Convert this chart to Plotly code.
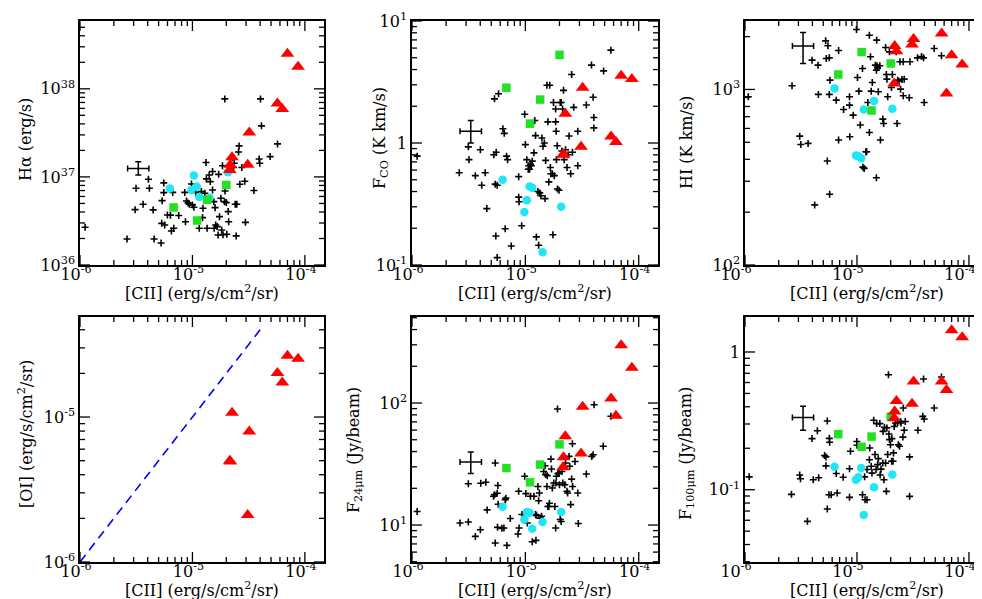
import math
import plotly.graph_objects as go

# ---------------- data ----------------
# Panel 1: H-alpha vs [CII]
p1_x = [1.11e-6, 2.62e-6, 3.09e-6, 3.15e-6, 3.64e-6, 4.06e-6, 4.14e-6, 4.47e-6, 4.56e-6, 5.26e-6,
        5.37e-6, 5.56e-6, 5.33e-6, 5.56e-6, 5.67e-6, 5.99e-6, 6.37e-6, 6.5e-6, 6.68e-6, 6.82e-6,
        7.55e-6, 8.55e-6, 8.67e-6, 8.85e-6, 9.15e-6, 9.4e-6, 9.8e-6, 1.0e-5, 1.03e-5, 1.07e-5,
        1.15e-5, 1.2e-5, 1.23e-5, 1.29e-5, 1.32e-5, 1.33e-5, 1.35e-5, 1.41e-5, 1.44e-5, 1.51e-5,
        1.51e-5, 1.55e-5, 1.59e-5, 1.61e-5, 1.66e-5, 1.71e-5, 1.74e-5, 1.79e-5, 1.82e-5, 1.85e-5,
        1.87e-5, 1.93e-5, 1.94e-5, 1.95e-5, 2.0e-5, 2.02e-5, 2.05e-5, 2.08e-5, 2.1e-5, 2.27e-5,
        2.32e-5, 2.35e-5, 2.4e-5, 2.45e-5, 2.48e-5, 2.57e-5, 2.6e-5, 2.64e-5, 2.75e-5, 2.92e-5,
        2.96e-5, 3.52e-5, 3.92e-5, 3.97e-5, 4.03e-5, 4.11e-5, 4.91e-5, 5.71e-5, 1.69e-5, 1.56e-5,
        1.24e-5]
p1_y = [2.68e36, 1.97e36, 4.25e36, 7.43e36, 4.89e36, 9.4e36, 7.43e36, 4.22e36, 1.97e36, 1.78e36,
        5.38e36, 8.55e36, 2.97e36, 6.64e36, 2.85e36, 3.7e36, 3.68e36, 2.43e36, 6.67e36, 2.61e36,
        3.64e36, 6.67e36, 3.1e36, 5.33e36, 5.07e36, 4.89e36, 8.32e36, 4.81e36, 4.52e36, 6.67e36,
        2.61e36, 6.81e36, 3.45e36, 6.52e36, 1.46e37, 9.49e36, 2.61e36, 1.05e37, 8.85e36, 1.15e37,
        7.11e36, 5.24e36, 4.48e36, 2.85e36, 2.73e36, 1.07e37, 3.54e36, 5.72e36, 2.5e36, 1.34e37,
        2.21e36, 5.24e36, 7.69e37, 6.93e36, 5.11e36, 2.23e36, 1.17e37, 4.04e36, 3.1e36, 1.66e37,
        1.28e37, 1.43e37, 4.89e36, 2.14e36, 4.89e36, 1.92e37, 2.25e37, 8.25e36, 1.28e37, 8.93e36,
        3.05e36, 7.0e36, 1.6e37, 1.43e37, 7.69e37, 3.8e37, 1.7e37, 2.37e37, 2.19e36, 2.61e36,
        4.4e36]

# Panel 2: F_CO vs [CII]
p2_x = [1.11e-6, 2.61e-6, 3.14e-6, 3.18e-6, 3.62e-6, 4.01e-6, 4.12e-6, 4.42e-6, 4.57e-6, 5.27e-6,
        5.34e-6, 5.42e-6, 5.49e-6, 5.53e-6, 5.64e-6, 5.8e-6, 5.64e-6, 6.34e-6, 6.51e-6, 6.64e-6,
        6.83e-6, 6.97e-6, 7.51e-6, 8.73e-6, 8.73e-6, 8.79e-6, 9.28e-6, 9.86e-6, 1.0e-5, 1.03e-5,
        1.06e-5, 1.07e-5, 1.09e-5, 1.11e-5, 1.13e-5, 1.15e-5, 1.19e-5, 1.21e-5, 1.23e-5, 1.25e-5,
        1.29e-5, 1.31e-5, 1.34e-5, 1.37e-5, 1.40e-5, 1.43e-5, 1.47e-5, 1.49e-5, 1.51e-5, 1.55e-5,
        1.58e-5, 1.61e-5, 1.64e-5, 1.66e-5, 1.68e-5, 1.73e-5, 1.75e-5, 1.77e-5, 1.8e-5, 1.85e-5,
        1.85e-5, 1.87e-5, 1.88e-5, 1.91e-5, 1.92e-5, 1.98e-5, 2.03e-5, 2.07e-5, 2.1e-5, 2.13e-5,
        2.17e-5, 2.2e-5, 2.26e-5, 2.33e-5, 2.38e-5, 2.43e-5, 2.51e-5, 2.56e-5, 2.6e-5, 2.67e-5,
        2.9e-5, 2.9e-5, 3.45e-5, 3.83e-5, 3.96e-5, 4.02e-5, 4.02e-5, 4.9e-5, 5.68e-5]
p2_y = [0.78, 0.57, 0.93, 0.73, 0.54, 0.88, 0.45, 0.57, 0.29, 0.80,
        2.3, 0.46, 0.173, 0.84, 0.45, 2.53, 0.115, 1.31, 1.2, 0.198,
        0.78, 0.73, 0.143, 0.53, 0.36, 0.33, 0.21, 1.72, 0.97, 0.73,
        0.61, 0.65, 0.61, 0.67, 0.65, 0.71, 0.83, 1.53, 1.15, 0.17,
        0.40, 0.145, 0.39, 0.37, 1.1, 0.94, 1.0, 0.35, 0.72, 2.97,
        1.49, 0.48, 2.97, 0.63, 0.56, 0.56, 0.177, 2.15, 0.54, 1.9,
        1.49, 1.25, 0.73, 0.95, 0.42, 0.41, 2.15, 2.15, 0.86, 1.9,
        2.7, 0.73, 0.88, 0.63, 0.80, 1.14, 0.56, 3.64, 0.84, 1.96,
        0.65, 1.25, 2.05, 4.35, 2.37, 1.62, 1.33, 3.9, 5.77]

# Panel 3: HI vs [CII]
p3_x = [1.07e-6, 2.63e-6, 3.08e-6, 3.15e-6, 3.66e-6, 3.97e-6, 4.19e-6, 4.49e-6, 4.52e-6, 5.25e-6,
        5.43e-6, 5.32e-6, 5.5e-6, 5.66e-6, 5.7e-6, 5.74e-6, 5.66e-6, 6.53e-6, 6.85e-6, 6.85e-6,
        7.59e-6, 8.58e-6, 8.58e-6, 8.63e-6, 9.25e-6, 9.9e-6, 1.01e-5, 1.04e-5, 1.07e-5, 1.12e-5,
        1.13e-5, 1.16e-5, 1.2e-5, 1.22e-5, 1.25e-5, 1.29e-5, 1.29e-5, 1.32e-5, 1.34e-5, 1.37e-5,
        1.46e-5, 1.49e-5, 1.5e-5, 1.51e-5, 1.53e-5, 1.55e-5, 1.49e-5, 1.6e-5, 1.62e-5, 1.7e-5,
        1.73e-5, 1.8e-5, 1.83e-5, 1.85e-5, 1.88e-5, 1.95e-5, 2.03e-5, 2.04e-5, 2.07e-5, 2.24e-5,
        2.28e-5, 2.31e-5, 2.37e-5, 2.42e-5, 2.45e-5, 2.52e-5, 2.59e-5, 2.59e-5, 2.64e-5, 2.93e-5,
        2.97e-5, 3.47e-5, 3.77e-5, 3.93e-5, 3.98e-5, 4.89e-5, 5.68e-5]
p3_y = [908, 1050, 542, 486, 493, 1469, 220, 1376, 937, 1892,
        391, 1501, 1773, 1514, 253, 1130, 937, 869, 1667, 515,
        769, 908, 814, 538, 714, 2196, 1171, 978, 627, 1317,
        361, 355, 442, 442, 843, 2037, 569, 1535, 978, 1096,
        1376, 1288, 1909, 1364, 1328, 970, 314, 1364, 515, 678,
        640, 1734, 1217, 1145, 908, 1638, 1027, 1406, 1217, 1638,
        640, 1130, 1115, 1437, 1004, 1140, 920, 1437, 1145, 897,
        1437, 1514, 1541, 1514, 843, 1711, 1555]

# Panel 5: F_24um vs [CII]
p5_x = [1.11e-6, 2.65e-6, 3.14e-6, 3.14e-6, 3.62e-6, 4.01e-6, 4.04e-6, 4.48e-6, 4.6e-6, 5.24e-6,
        5.34e-6, 5.42e-6, 5.42e-6, 5.64e-6, 5.72e-6, 5.68e-6, 5.76e-6, 6.21e-6, 6.47e-6, 6.64e-6,
        6.87e-6, 6.73e-6, 7.36e-6, 8.61e-6, 8.73e-6, 8.79e-6, 9.34e-6, 9.86e-6, 1.01e-5, 1.04e-5,
        1.11e-5, 1.15e-5, 1.19e-5, 1.23e-5, 1.24e-5, 1.25e-5, 1.29e-5, 1.31e-5, 1.33e-5, 1.36e-5,
        1.39e-5, 1.45e-5, 1.49e-5, 1.51e-5, 1.55e-5, 1.56e-5, 1.58e-5, 1.61e-5, 1.63e-5, 1.68e-5,
        1.70e-5, 1.73e-5, 1.78e-5, 1.82e-5, 1.85e-5, 1.86e-5, 1.88e-5, 1.92e-5, 1.94e-5, 1.98e-5,
        2.0e-5, 2.03e-5, 2.07e-5, 2.1e-5, 2.14e-5, 2.23e-5, 2.26e-5, 2.33e-5, 2.36e-5, 2.43e-5,
        2.46e-5, 2.51e-5, 2.56e-5, 2.6e-5, 2.61e-5, 2.74e-5, 2.9e-5, 2.93e-5, 3.45e-5, 3.85e-5,
        3.96e-5, 4.04e-5, 4.86e-5, 5.68e-5]
p5_y = [12.9, 10.4, 10.6, 21.8, 8.07, 9.16, 22.0, 22.4, 13.3, 17.2,
        17.7, 7.12, 32.2, 18.2, 21.1, 9.57, 14.8, 9.39, 9.45, 16.1,
        6.81, 16.6, 11.3, 8.44, 18.9, 9.45, 12.2, 25.1, 18.1, 10.4,
        17.2, 7.3, 17.2, 12.2, 7.49, 12.0, 20.7, 15.8, 18.3, 11.4,
        11.8, 27.5, 30.6, 25.9, 20.7, 25.4, 14.2, 14.2, 15.1, 34.7,
        28.8, 20.1, 22.1, 14.2, 9.45, 22.1, 25.1, 89.2, 26.4, 26.7,
        21.4, 11.1, 10.7, 27.5, 22.1, 21.4, 32.2, 18.9, 18.3, 36.5,
        30.3, 14.7, 23.8, 46.4, 20.7, 33.2, 18.3, 10.3, 26.2, 36.5,
        37.7, 96.9, 44.2, 77.8]

# Panel 6: F_100um vs [CII]
p6_x = [1.09e-6, 2.6e-6, 3.08e-6, 3.13e-6, 3.61e-6, 3.97e-6, 4.07e-6, 4.43e-6, 4.55e-6, 5.14e-6,
        5.28e-6, 5.28e-6, 5.43e-6, 5.43e-6, 5.66e-6, 5.7e-6, 5.62e-6, 5.89e-6, 6.66e-6, 6.53e-6,
        7.53e-6, 8.58e-6, 8.58e-6, 8.75e-6, 9.97e-6, 1.0e-5, 1.12e-5, 1.17e-5, 1.18e-5, 1.23e-5,
        1.23e-5, 1.29e-5, 1.30e-5, 1.34e-5, 1.36e-5, 1.41e-5, 1.45e-5, 1.5e-5, 1.48e-5, 1.53e-5,
        1.55e-5, 1.6e-5, 1.61e-5, 1.64e-5, 1.7e-5, 1.71e-5, 1.74e-5, 1.76e-5, 1.8e-5, 1.83e-5,
        1.85e-5, 1.88e-5, 1.91e-5, 1.93e-5, 1.95e-5, 1.99e-5, 2.01e-5, 2.04e-5, 2.05e-5, 2.1e-5,
        2.12e-5, 2.15e-5, 2.21e-5, 2.31e-5, 2.34e-5, 2.4e-5, 2.45e-5, 2.47e-5, 2.57e-5, 2.59e-5,
        2.64e-5, 2.7e-5, 2.95e-5, 2.95e-5, 3.5e-5, 3.87e-5, 3.98e-5, 3.93e-5, 4.89e-5, 5.68e-5]
p6_y = [0.124, 0.0925, 0.128, 0.12, 0.0589, 0.235, 0.118, 0.268, 0.122, 0.177,
        0.149, 0.173, 0.315, 0.0724, 0.236, 0.221, 0.092, 0.092, 0.0946, 0.131,
        0.123, 0.142, 0.088, 0.19, 0.224, 0.21, 0.092, 0.124, 0.0846, 0.0846,
        0.14, 0.165, 0.201, 0.148, 0.132, 0.319, 0.18, 0.302, 0.14, 0.152,
        0.168, 0.302, 0.128, 0.141, 0.156, 0.265, 0.118, 0.284, 0.156, 0.0973,
        0.281, 0.18, 0.684, 0.254, 0.231, 0.212, 0.341, 0.161, 0.235, 0.161,
        0.185, 0.288, 0.305, 0.308, 0.212, 0.207, 0.313, 0.305, 0.241, 0.392,
        0.27, 0.313, 0.173, 0.0895, 0.27, 0.341, 0.326, 0.637, 0.392, 0.658]

# Cyan circles (shared [CII])
cyan_x = [6.3e-6, 1.03e-5, 9.8e-6, 1.09e-5, 1.15e-5, 1.42e-5, 2.07e-5]
cyan_p1 = [7.4e36, 1.04e37, 7.1e36, 7.8e36, 5.9e36, 5.8e36, 1.13e37]
cyan_p2 = [0.50, 0.34, 0.272, 0.44, 0.43, 0.127, 0.30]
cyan_p3 = [1014, 417, 420, 405, 769, 859, 776]
cyan_p5 = [14.1, 12.8, 11.1, 12.6, 9.33, 10.6, 12.8]
cyan_p6 = [0.147, 0.123, 0.118, 0.144, 0.0655, 0.104, 0.129]

# Green squares
green_x = [6.8e-6, 1.1e-5, 1.35e-5, 2.0e-5]
green_p1 = [4.5e36, 3.2e36, 5.5e36, 8.1e36]
green_p2 = [2.84, 1.44, 2.27, 5.28]
green_p3 = [1217, 1633, 759, 1406]
green_p5 = [29.3, 22.4, 31.3, 45.8]
green_p6 = [0.253, 0.205, 0.243, 0.339]

# Red triangles
tri_x = [7.0e-5, 8.7e-5, 5.7e-5, 6.3e-5, 3.2e-5, 3.1e-5, 2.25e-5, 2.17e-5, 2.15e-5]
tri_p1 = [2.5e38, 1.78e38, 6.8e37, 5.9e37, 3.2e37, 1.37e37, 1.67e37, 1.37e37, 1.2e37]
tri_p2 = [3.55, 3.35, 1.13, 1.02, 2.84, 0.93, 1.74, 0.81, 0.80]
tri_p3 = [1567, 1387, 2084, 948, 1936, 1803, 1652, 1767, 1081]
tri_p4 = [2.65e-5, 2.52e-5, 2.01e-5, 1.73e-5, 7.96e-6, 2.11e-6, 1.07e-5, 4.94e-6, 5.0e-6]
tri_p5 = [298, 195, 109, 78.7, 93.3, 38.5, 53.4, 35.9, 29.7]
tri_p6 = [1.44, 1.28, 0.61, 0.53, 0.61, 0.42, 0.44, 0.37, 0.33]

# one-to-one line in the [OI] panel
line_x = [1e-6, 4e-5]
line_y = [1e-6, 4e-5]

# Typical error bar: [CII] centre / low / high, and per-panel y centre / low / high
err_x = [3.3e-6, 2.65e-6, 4.1e-6]
err_p1 = [1.25e37, 1.05e37, 1.49e37]
err_p2 = [1.25, 1.0, 1.53]
err_p3 = [1766, 1406, 2113]
err_p5 = [32.8, 26.4, 39.6]
err_p6 = [0.335, 0.27, 0.403]

# axis settings
x_range = [-6, -3.83]
y_ranges = {1: [36, 38.77], 2: [-1, 1], 3: [2, 3.39], 4: [-6, -4.31], 5: [0.697, 2.705], 6: [-1.525, 0.254]}
x_titles = "[CII] (erg/s/cm<sup>2</sup>/sr)"
y_titles = {1: "Hα (erg/s)", 2: "F<sub>CO</sub> (K km/s)", 3: "HI (K km/s)",
            4: "[OI] (erg/s/cm<sup>2</sup>/sr)", 5: "F<sub>24μm</sub> (Jy/beam)",
            6: "F<sub>100μm</sub> (Jy/beam)"}
x_tick_exp = [-6, -5, -4]
y_tick_exp = {1: [36, 37, 38], 2: [-1, 0, 1], 3: [2, 3], 4: [-6, -5], 5: [1, 2], 6: [-1, 0]}

# ---------------- layout ----------------
W, H = 982, 599
x_dom_px = {1: (72, 316), 2: (404, 650), 3: (737, 980)}
y_dom_px = {1: (13, 257), 2: (309, 554)}
x_label_shift = {1: -4, 2: -4, 3: -9}
FONT = "DejaVu Serif"
MAJOR_LEN, MINOR_LEN = 10, 5


def sup(e):
    if e == 0:
        return "1"
    return "10<sup>%d</sup>" % e


def tick_values(lo, hi):
    """Major (decade) and minor (2..9 x decade) tick values inside the log10 range [lo, hi]."""
    major, minor = [], []
    for d in range(math.floor(lo) - 1, math.ceil(hi) + 1):
        if lo - 1e-9 <= d <= hi + 1e-9:
            major.append(10.0 ** d)
        for m in range(2, 10):
            if lo < d + math.log10(m) < hi:
                minor.append(m * 10.0 ** d)
    return major, minor


fig = go.Figure()


def add_panel(k, bx, by, cx=None, cy=None, gx=None, gy=None, tx=None, ty=None, err=None):
    xa = "x" if k == 1 else "x%d" % k
    ya = "y" if k == 1 else "y%d" % k
    cross = dict(symbol="cross-thin", size=5, color="black", line=dict(width=1.6, color="black"))
    if bx is not None:
        fig.add_trace(go.Scatter(x=bx, y=by, mode="markers", marker=cross, xaxis=xa, yaxis=ya))
    if err is not None:
        c, lo, hi = err
        fig.add_trace(go.Scatter(
            x=[err_x[0]], y=[c], mode="markers", marker=dict(size=1, opacity=0),
            error_x=dict(type="data", symmetric=False, array=[err_x[2] - err_x[0]],
                         arrayminus=[err_x[0] - err_x[1]], color="black", thickness=1.5, width=3),
            error_y=dict(type="data", symmetric=False, array=[hi - c], arrayminus=[c - lo],
                         color="black", thickness=1.5, width=3),
            xaxis=xa, yaxis=ya))
    if cx is not None:
        fig.add_trace(go.Scatter(x=cx, y=cy, mode="markers",
                                 marker=dict(symbol="circle", size=8.5, color="#1ee6f4"),
                                 xaxis=xa, yaxis=ya))
    if gx is not None:
        fig.add_trace(go.Scatter(x=gx, y=gy, mode="markers",
                                 marker=dict(symbol="square", size=8.5, color="#22e022"),
                                 xaxis=xa, yaxis=ya))
    if tx is not None:
        fig.add_trace(go.Scatter(x=tx, y=ty, mode="markers",
                                 marker=dict(symbol="triangle-up", size=12, color="#ff0000"),
                                 xaxis=xa, yaxis=ya))


add_panel(1, p1_x, p1_y, cyan_x, cyan_p1, green_x, green_p1, tri_x, tri_p1, err_p1)
add_panel(2, p2_x, p2_y, cyan_x, cyan_p2, green_x, green_p2, tri_x, tri_p2, err_p2)
add_panel(3, p3_x, p3_y, cyan_x, cyan_p3, green_x, green_p3, tri_x, tri_p3, err_p3)
fig.add_trace(go.Scatter(x=line_x, y=line_y, mode="lines",
                         line=dict(color="#0000ff", width=1.6, dash="9px,6px"),
                         xaxis="x4", yaxis="y4"))
add_panel(4, None, None, tx=tri_x, ty=tri_p4)
add_panel(5, p5_x, p5_y, cyan_x, cyan_p5, green_x, green_p5, tri_x, tri_p5, err_p5)
add_panel(6, p6_x, p6_y, cyan_x, cyan_p6, green_x, green_p6, tri_x, tri_p6, err_p6)

axis_common = dict(type="log", showgrid=False, zeroline=False, showline=True, linecolor="black",
                   linewidth=1.5, mirror=True, ticks="", automargin=False,
                   tickfont=dict(family=FONT, size=16, color="black"))

layout = dict(width=W, height=H, margin=dict(l=0, r=0, t=0, b=0, autoexpand=False), showlegend=False,
              plot_bgcolor="white", paper_bgcolor="white", font=dict(family=FONT, color="black"))
annotations = []
shapes = []
for k in range(1, 7):
    col = (k - 1) % 3 + 1
    row = 1 if k <= 3 else 2
    x0, x1 = x_dom_px[col]
    y0, y1 = y_dom_px[row]
    xname = "x" if k == 1 else "x%d" % k
    yname = "y" if k == 1 else "y%d" % k
    xkey = "xaxis" if k == 1 else "xaxis%d" % k
    ykey = "yaxis" if k == 1 else "yaxis%d" % k
    ylo, yhi = y_ranges[k]
    xdom = [x0 / W, x1 / W]
    ydom = [1 - y1 / H, 1 - y0 / H]
    layout[xkey] = dict(axis_common, domain=xdom, anchor=yname, range=x_range,
                        tickmode="array", tickvals=[10.0 ** e for e in x_tick_exp],
                        ticktext=[sup(e) for e in x_tick_exp], ticklabelstandoff=-6,
                        ticklabelshift=x_label_shift[col])
    layout[ykey] = dict(axis_common, domain=ydom, anchor=xname,
                        range=[ylo, yhi], tickmode="array",
                        tickvals=[10.0 ** e for e in y_tick_exp[k]],
                        ticktext=[sup(e) for e in y_tick_exp[k]])

    # inside tick marks on all four sides, placed at the axis tick values
    pw, ph = x1 - x0, y1 - y0
    tick_line = dict(color="black", width=1.3)
    xmaj, xmin_ = tick_values(*x_range)
    for v, ln in [(v, MAJOR_LEN) for v in xmaj] + [(v, MINOR_LEN) for v in xmin_]:
        f = ln / ph
        shapes.append(dict(type="line", xref=xname, yref=yname + " domain", x0=v, x1=v,
                           y0=0, y1=f, line=tick_line))
        shapes.append(dict(type="line", xref=xname, yref=yname + " domain", x0=v, x1=v,
                           y0=1 - f, y1=1, line=tick_line))
    ymaj, ymin_ = tick_values(ylo, yhi)
    for v, ln in [(v, MAJOR_LEN) for v in ymaj] + [(v, MINOR_LEN) for v in ymin_]:
        f = ln / pw
        shapes.append(dict(type="line", xref=xname + " domain", yref=yname, x0=0, x1=f,
                           y0=v, y1=v, line=tick_line))
        shapes.append(dict(type="line", xref=xname + " domain", yref=yname, x0=1 - f, x1=1,
                           y0=v, y1=v, line=tick_line))

    annotations.append(dict(text=x_titles, xref="paper", yref="paper", x=(x0 + x1) / 2 / W,
                            y=1 - (y1 + 27) / H, xanchor="center", yanchor="middle", showarrow=False,
                            font=dict(family=FONT, size=16, color="black")))

ytitle_px = {1: (17, 132), 2: (372, 130), 3: (678, 135), 4: (17, 426), 5: (346, 442), 6: (678, 446)}
for k in range(1, 7):
    px, py = ytitle_px[k]
    annotations.append(dict(text=y_titles[k], xref="paper", yref="paper", x=px / W, y=1 - py / H,
                            xanchor="center", yanchor="middle", textangle=-90, showarrow=False,
                            font=dict(family=FONT, size=16, color="black")))
layout["annotations"] = annotations
layout["shapes"] = shapes
fig.update_layout(**layout)
fig.write_html("out.html")
